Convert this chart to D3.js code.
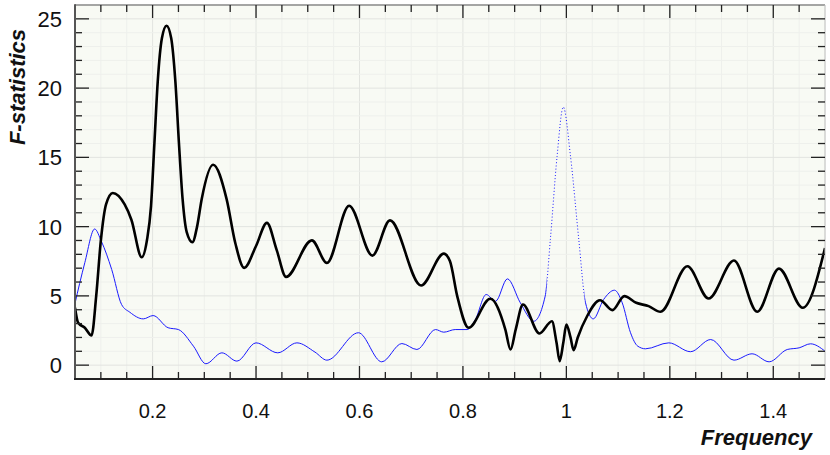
<!DOCTYPE html>
<html><head><meta charset="utf-8">
<script src="https://cdn.jsdelivr.net/npm/d3@7"></script>
<style>body{margin:0;background:#fff}svg{display:block}</style>
</head><body>
<svg id="c" width="830" height="455"></svg>
<script>
const xTicks = [0.2, 0.4, 0.6, 0.8, 1, 1.2, 1.4];
const xTickLabels = ["0.2", "0.4", "0.6", "0.8", "1", "1.2", "1.4"];
const yTicks = [0, 5, 10, 15, 20, 25];
const yTickLabels = ["0", "5", "10", "15", "20", "25"];

const fBlack = [0.050,0.056,0.069,0.082,0.091,0.100,0.110,0.123,0.146,0.159,0.179,0.189,0.197,0.2035,0.210,0.218,0.227,0.236,0.244,0.251,0.258,0.266,0.277,0.286,0.295,0.317,0.343,0.360,0.377,0.400,0.421,0.440,0.458,0.508,0.537,0.580,0.625,0.659,0.719,0.763,0.775,0.789,0.811,0.853,0.882,0.892,0.902,0.916,0.948,0.972,0.981,0.987,0.994,1.000,1.008,1.014,1.022,1.040,1.065,1.089,1.112,1.135,1.159,1.182,1.234,1.275,1.324,1.369,1.411,1.457,1.500];
const vBlack = [4.14,3.06,2.70,2.14,5.0,9.0,11.6,12.43,11.6,10.5,7.79,9.0,11.5,16.0,20.5,23.6,24.5,23.6,20.5,16.0,12.0,9.6,8.87,10.0,12.0,14.47,12.0,8.8,7.02,8.6,10.27,8.3,6.37,9.01,7.38,11.51,7.91,10.45,5.75,8.05,7.5,4.98,2.70,4.79,2.57,1.13,2.57,4.38,2.29,3.17,1.61,0.29,1.61,2.93,2.0,1.08,2.0,3.53,4.69,3.97,4.98,4.5,4.26,3.85,7.14,4.81,7.55,3.85,6.97,4.14,8.46];

const fBlue = [0.050,0.059,0.069,0.088,0.101,0.121,0.140,0.156,0.182,0.201,0.230,0.250,0.279,0.303,0.334,0.363,0.400,0.442,0.479,0.514,0.537,0.598,0.643,0.682,0.711,0.747,0.763,0.785,0.808,0.824,0.845,0.863,0.886,0.911,0.937,0.959,0.969,0.982,0.994,1.008,1.024,1.037,1.052,1.072,1.093,1.108,1.124,1.138,1.153,1.198,1.240,1.279,1.324,1.359,1.392,1.427,1.450,1.472,1.500];
const vBlue = [4.45,5.9,7.4,9.83,8.94,6.9,4.38,3.82,3.34,3.58,2.70,2.57,1.37,0.10,0.89,0.29,1.61,0.89,1.61,0.94,0.36,2.34,0.24,1.56,1.13,2.57,2.38,2.57,2.57,3.29,5.10,4.61,6.23,4.50,3.17,4.98,9.06,15.07,18.63,15.07,9.06,4.50,3.34,4.74,5.41,4.50,2.34,1.37,1.18,1.61,0.97,1.85,0.36,0.82,0.24,1.13,1.25,1.54,1.01];

const L = 75, R = 825, T = 5, B = 379;
const x = d3.scaleLinear().domain([0.05, 1.5]).range([L, R]);
const y = d3.scaleLinear().domain([-1, 26]).range([B, T]);
const svg = d3.select("#c");
const font = "'Liberation Sans', Arial, sans-serif";

svg.append("rect").attr("x", L).attr("y", T).attr("width", R - L).attr("height", B - T).attr("fill", "#f8faf4");

const xMinor = d3.range(0.05, 1.5001, 0.05).map(v => +v.toFixed(2));
const yMinor = d3.range(-1, 26.001, 1);
const g = svg.append("g");
xMinor.forEach(v => {
  const major = xTicks.some(t => Math.abs(t - v) < 1e-6);
  g.append("line").attr("x1", x(v)).attr("x2", x(v)).attr("y1", T).attr("y2", B)
    .attr("stroke", major ? "#e2e4e0" : "#eef0ec").attr("stroke-width", 1);
});
yMinor.forEach(v => {
  const major = v % 5 === 0;
  g.append("line").attr("x1", L).attr("x2", R).attr("y1", y(v)).attr("y2", y(v))
    .attr("stroke", major ? "#e2e4e0" : "#eef0ec").attr("stroke-width", 1);
});

// clip regions
const defs = svg.append("defs");
defs.append("clipPath").attr("id", "pc").append("rect").attr("x", L).attr("y", T).attr("width", R - L).attr("height", B - T);
const dotA = 0.962, dotB = 1.035;
const cs = defs.append("clipPath").attr("id", "solid");
cs.append("rect").attr("x", L).attr("y", T).attr("width", x(dotA) - L).attr("height", B - T);
cs.append("rect").attr("x", x(dotB)).attr("y", T).attr("width", R - x(dotB)).attr("height", B - T);
defs.append("clipPath").attr("id", "dotted").append("rect").attr("x", x(dotA)).attr("y", T).attr("width", x(dotB) - x(dotA)).attr("height", B - T);

const lineGen = d3.line().x(d => x(d[0])).y(d => y(d[1])).curve(d3.curveMonotoneX);
const blueD = lineGen(fBlue.map((f, i) => [f, vBlue[i]]));
svg.append("path").attr("clip-path", "url(#solid)").attr("d", blueD)
  .attr("fill", "none").attr("stroke", "#1a1aff").attr("stroke-width", 1);
svg.append("path").attr("clip-path", "url(#dotted)").attr("d", blueD)
  .attr("fill", "none").attr("stroke", "#1a1aff").attr("stroke-width", 1).attr("stroke-dasharray", "1,2.2");
svg.append("path").attr("clip-path", "url(#pc)")
  .attr("d", lineGen(fBlack.map((f, i) => [f, vBlack[i]])))
  .attr("fill", "none").attr("stroke", "#000").attr("stroke-width", 2.6).attr("stroke-linejoin", "round");

// frame
svg.append("line").attr("x1", L).attr("x2", R).attr("y1", T).attr("y2", T).attr("stroke", "#8a8a8a").attr("stroke-width", 1.5);
svg.append("line").attr("x1", R).attr("x2", R).attr("y1", T).attr("y2", B).attr("stroke", "#c0c0c0").attr("stroke-width", 1);

// ticks (inward)
const tk = svg.append("g");
xMinor.forEach(v => {
  const major = xTicks.some(t => Math.abs(t - v) < 1e-6);
  const len = major ? 13 : 7;
  if (v <= 0.05 || v >= 1.5) return;
  tk.append("line").attr("x1", x(v)).attr("x2", x(v)).attr("y1", B).attr("y2", B - len).attr("stroke", "#222").attr("stroke-width", 1.3);
  tk.append("line").attr("x1", x(v)).attr("x2", x(v)).attr("y1", T).attr("y2", T + len).attr("stroke", "#222").attr("stroke-width", 1.3);
});
yMinor.forEach(v => {
  const major = v % 5 === 0;
  const len = major ? 14 : 7;
  if (v <= -1 || v >= 26) return;
  tk.append("line").attr("x1", L).attr("x2", L + len).attr("y1", y(v)).attr("y2", y(v)).attr("stroke", "#222").attr("stroke-width", 1.3);
  tk.append("line").attr("x1", R).attr("x2", R - len).attr("y1", y(v)).attr("y2", y(v)).attr("stroke", "#222").attr("stroke-width", 1.3);
});

// axes lines
svg.append("line").attr("x1", L).attr("x2", L).attr("y1", T - 0.75).attr("y2", B).attr("stroke", "#555").attr("stroke-width", 2);
svg.append("line").attr("x1", L - 1).attr("x2", R).attr("y1", B).attr("y2", B).attr("stroke", "#222").attr("stroke-width", 1.8);

// labels
xTicks.forEach((v, i) => {
  svg.append("text").attr("x", x(v)).attr("y", 418).attr("text-anchor", "middle")
    .attr("font-family", font).attr("font-size", 20).attr("fill", "#111").text(xTickLabels[i]);
});
yTicks.forEach((v, i) => {
  svg.append("text").attr("x", 62).attr("y", y(v) + 8).attr("text-anchor", "end")
    .attr("font-family", font).attr("font-size", 22).attr("fill", "#111").text(yTickLabels[i]);
});
svg.append("text").attr("transform", "translate(25,87) rotate(-90)").attr("text-anchor", "middle")
  .attr("font-family", font).attr("font-size", 22).attr("font-weight", "bold").attr("font-style", "italic").attr("fill", "#111").text("F-statistics");
svg.append("text").attr("x", 812).attr("y", 445).attr("text-anchor", "end")
  .attr("font-family", font).attr("font-size", 22).attr("font-weight", "bold").attr("font-style", "italic").attr("fill", "#111").text("Frequency");
</script>
</body></html>
